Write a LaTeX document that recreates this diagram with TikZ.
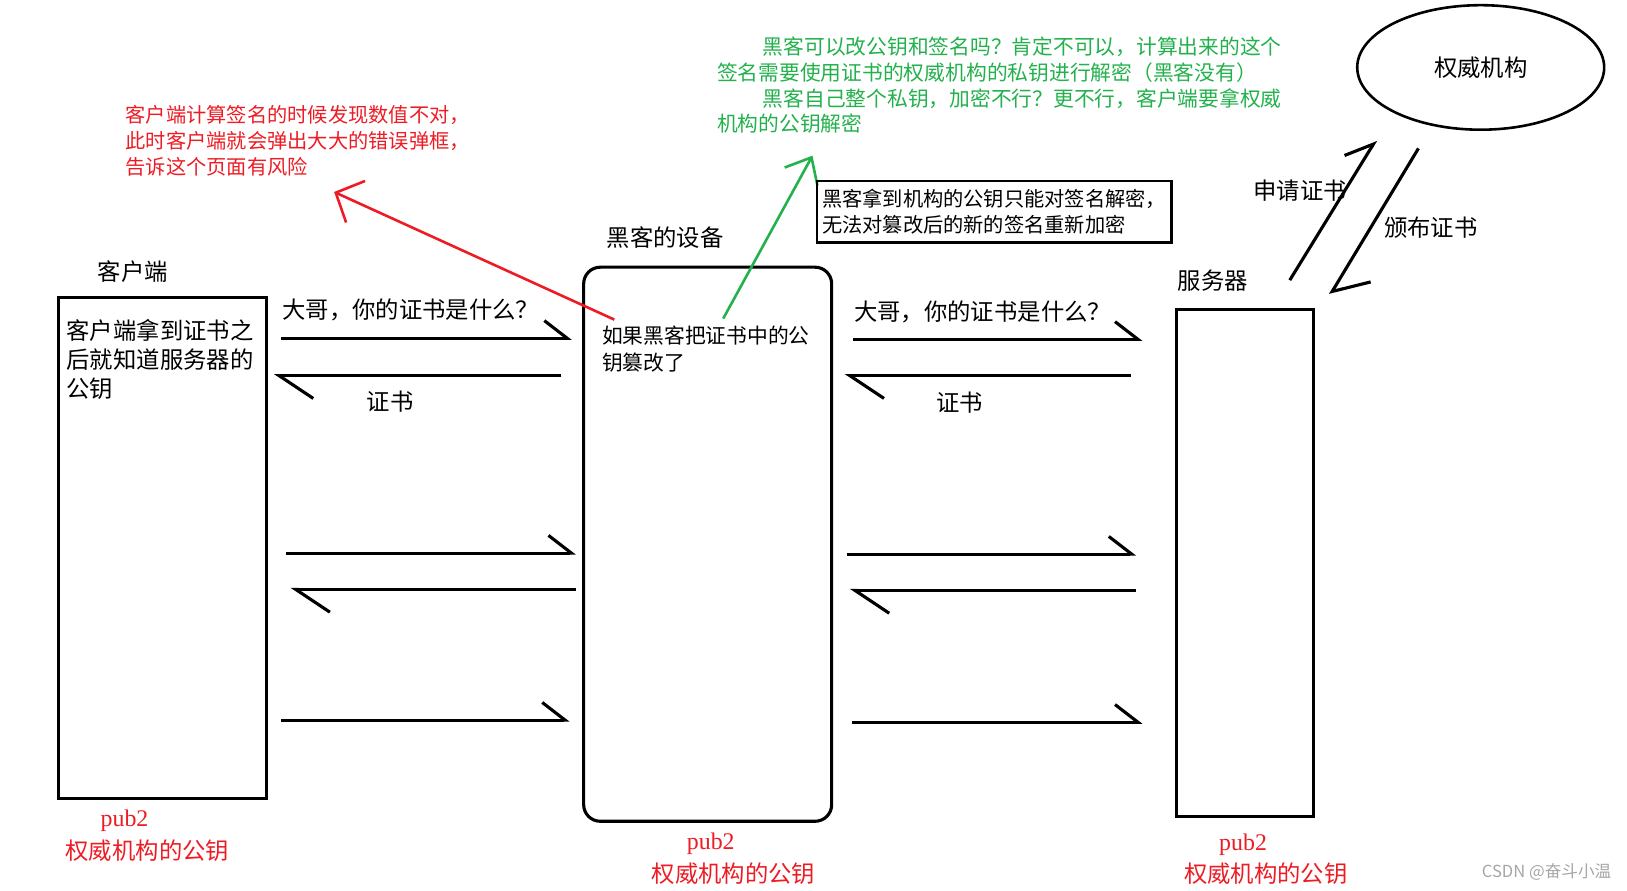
\documentclass[tikz,border=0pt]{standalone}
\usepackage{fontspec}
\setmainfont{Liberation Serif}
\newfontfamily\cjk{Noto Sans CJK SC}
\usetikzlibrary{arrows.meta, shapes.geometric}
\definecolor{paintred}{RGB}{237,28,36}
\definecolor{paintgreen}{RGB}{34,177,76}
\tikzset{
  box/.style={
    draw,
    line width=3pt,
    inner sep=0pt,
    anchor=north west
  },
  lbl/.style={
    font=\fontsize{22.5}{28}\cjk,
    inner sep=0pt
  },
  note/.style={
    align=left,
    inner sep=0pt,
    anchor=north west
  },
  ask/.style={
    line width=3pt,
    -{Straight Barb[harpoon, length=22pt, width=34pt]}
  },
  reply/.style={
    line width=3pt,
    -{Straight Barb[harpoon, length=33pt, width=44pt]}
  },
  pubtag/.style={
    text=paintred,
    inner sep=0pt,
    font=\fontsize{23}{28}\selectfont
  },
  pubkey/.style={
    text=paintred,
    inner sep=0pt,
    font=\fontsize{22.5}{28}\cjk
  }
}

\begin{document}
\begin{tikzpicture}[x=1pt, y=-1pt]
    \useasboundingbox (0,0) rectangle (1568,858);

    % 客户端、黑客、服务器
    \node[box, minimum width=200pt, minimum height=483pt] (client) at (55,285) {};
    \node[box, rounded corners=16pt, minimum width=239pt, minimum height=534pt] (hacker) at (561,256) {};
    \node[box, minimum width=132pt, minimum height=488pt] (server) at (1132,297) {};
    \node[lbl] (clientlbl) at (128,262) {客户端};
    \node[lbl] (hackerlbl) at (641,229) {黑客的设备};
    \node[lbl] (serverlbl) at (1169,270) {服务器};

    \node[note, font=\fontsize{22.5}{28}\cjk] (clientnote) at (64,308) {客户端拿到证书之\\后就知道服务器的\\公钥};
    \node[note, font=\fontsize{20}{26}\cjk] (hackernote) at (580,314) {如果黑客把证书中的公\\钥篡改了};

    % 权威机构
    \node[ellipse, draw, line width=2.5pt, minimum width=238pt, minimum height=120pt, inner sep=0pt,
          font=\fontsize{22.5}{28}\cjk] (ca) at (1427,65) {权威机构};

    % 客户端 <-> 黑客
    \coordinate (cq1) at (271,326);  \coordinate (hq1) at (551,326);
    \coordinate (hr1) at (541,362);  \coordinate (cr1) at (264,362);
    \coordinate (cq2) at (276,533);  \coordinate (hq2) at (555,533);
    \coordinate (hr2) at (555,568);  \coordinate (cr2) at (280,568);
    \coordinate (cq3) at (271,694);  \coordinate (hq3) at (549,694);
    \draw[ask] (cq1) -- (hq1);
    \draw[reply] (hr1) -- (cr1);
    \draw[ask] (cq2) -- (hq2);
    \draw[reply] (hr2) -- (cr2);
    \draw[ask] (cq3) -- (hq3);
    \node[lbl] (askleft) at (396,299) {大哥，你的证书是什么？};
    \node[lbl] (certleft) at (376,387) {证书};

    % 黑客 <-> 服务器
    \coordinate (hq4) at (822,327);  \coordinate (sq1) at (1101,327);
    \coordinate (sr1) at (1090,362); \coordinate (hr3) at (814,362);
    \coordinate (hq5) at (816,534);  \coordinate (sq2) at (1095,534);
    \coordinate (sr2) at (1095,569); \coordinate (hr4) at (819,569);
    \coordinate (hq6) at (821,696);  \coordinate (sq3) at (1101,696);
    \draw[ask] (hq4) -- (sq1);
    \draw[reply] (sr1) -- (hr3);
    \draw[ask] (hq5) -- (sq2);
    \draw[reply] (sr2) -- (hr4);
    \draw[ask] (hq6) -- (sq3);
    \node[lbl] (askright) at (947,301) {大哥，你的证书是什么？};
    \node[lbl] (certright) at (925,388) {证书};

    % 服务器 <-> 权威机构
    \coordinate (applyfrom) at (1243,270);  \coordinate (applyto) at (1326,135);
    \coordinate (issuefrom) at (1367,143);  \coordinate (issueto) at (1282,284);
    \draw[line width=3pt, -{Straight Barb[harpoon, length=24pt, width=36pt]}] (applyfrom) -- (applyto);
    \draw[line width=3pt, -{Straight Barb[harpoon, length=27pt, width=54pt]}] (issuefrom) -- (issueto);
    \node[lbl] (applylbl) at (1253,184) {申请证书};
    \node[lbl] (issuelbl) at (1379,219) {颁布证书};

    % 红色说明
    \node[note, text=paintred, font=\fontsize{19.5}{25}\cjk] (rednote) at (121,101)
      {客户端计算签名的时候发现数值不对，\\此时客户端就会弹出大大的错误弹框，\\告诉这个页面有风险};
    \coordinate (redfrom) at (592,308);
    \coordinate (redto) at (322,185);
    \draw[paintred, line width=2.5pt, -{Straight Barb[length=21pt, width=44pt]}] (redfrom) -- (redto);

    % 绿色说明
    \node[note, text=paintgreen, font=\fontsize{20}{25}\cjk] (greennote) at (691,35)
      {\hspace*{2.2em}黑客可以改公钥和签名吗？肯定不可以，计算出来的这个\\
       签名需要使用证书的权威机构的私钥进行解密（黑客没有）\\
       \hspace*{2.2em}黑客自己整个私钥，加密不行？更不行，客户端要拿权威\\
       机构的公钥解密};
    \coordinate (greenfrom) at (697,307);
    \coordinate (greento) at (783,150);
    \draw[paintgreen, line width=2.5pt, -{Straight Barb[length=21pt, width=36pt]}] (greenfrom) -- (greento);

    \node[draw, line width=2.5pt, align=left, anchor=north west, inner xsep=5pt, inner ysep=8pt,
          font=\fontsize{19.5}{25}\cjk] (fact) at (786,173)
      {黑客拿到机构的公钥只能对签名解密，\\无法对篡改后的新的签名重新加密};

    % 公钥
    \node[pubtag] (pubc) at (120,791) {pub2};
    \node[pubkey] (keyc) at (142,820) {权威机构的公钥};
    \node[pubtag] (pubh) at (685,813) {pub2};
    \node[pubkey] (keyh) at (707,842) {权威机构的公钥};
    \node[pubtag] (pubs) at (1198,814) {pub2};
    \node[pubkey] (keys) at (1220,842) {权威机构的公钥};

    \node[text=gray!70, inner sep=0pt, anchor=east, font=\fontsize{16}{20}\cjk] (mark) at (1553,840) {CSDN @奋斗小温};

\end{tikzpicture}
\end{document}
